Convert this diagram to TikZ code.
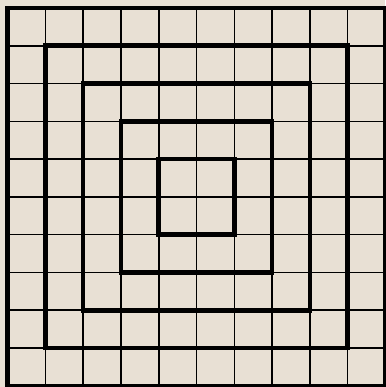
\documentclass[tikz,border=0pt]{standalone}
\definecolor{carta}{RGB}{232,224,212}
\begin{document}
\begin{tikzpicture}[x = 1cm, y = 1cm]

    % Sfondo
    \useasboundingbox (-0.2,-0.03) rectangle (10,10.21);
    \fill[carta] (-0.2,-0.03) rectangle (10,10.21);

    % Griglia 10x10
    \draw[line width=1.2pt] (0,0) grid (10,10);

    % Quadrati concentrici
    \foreach \k in {0,...,4}
        \draw[line width=3.5pt] (\k,\k) rectangle (10-\k,10-\k);

\end{tikzpicture}
\end{document}
